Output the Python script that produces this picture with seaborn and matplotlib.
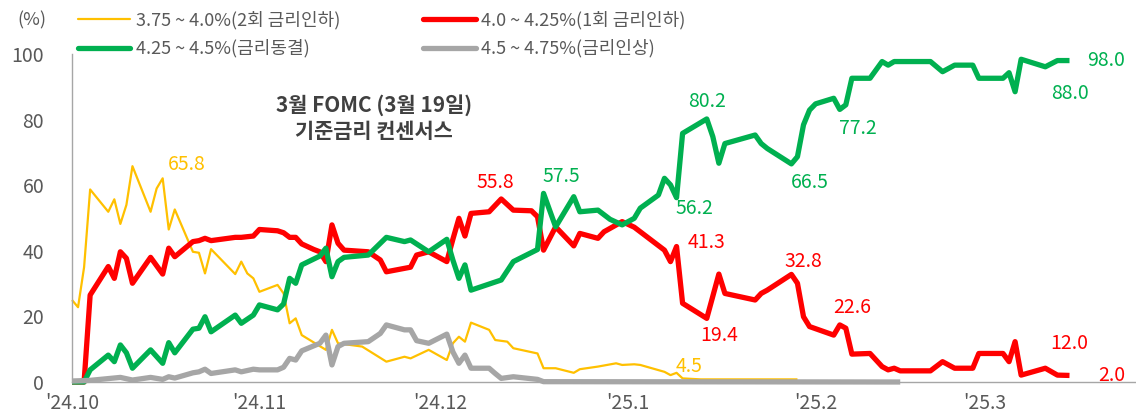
import pandas as pd
import matplotlib
matplotlib.use("Agg")
import matplotlib.pyplot as plt
from matplotlib.lines import Line2D
import seaborn as sns

# 금리 구간별 확률 (%), CME FedWatch 기준 3월 FOMC
yellow_dates = ["2024-10-01", "2024-10-02", "2024-10-03", "2024-10-04", "2024-10-07", "2024-10-08",
                "2024-10-09", "2024-10-10", "2024-10-11", "2024-10-14", "2024-10-15", "2024-10-16",
                "2024-10-17", "2024-10-18", "2024-10-21", "2024-10-22", "2024-10-23", "2024-10-24",
                "2024-10-28", "2024-10-29", "2024-10-30", "2024-10-31", "2024-11-01", "2024-11-04",
                "2024-11-05", "2024-11-06", "2024-11-07", "2024-11-08", "2024-11-12", "2024-11-13",
                "2024-11-14", "2024-11-18", "2024-11-22", "2024-11-25", "2024-11-26", "2024-11-29",
                "2024-12-02", "2024-12-03", "2024-12-04", "2024-12-05", "2024-12-06", "2024-12-09",
                "2024-12-10", "2024-12-12", "2024-12-13", "2024-12-17", "2024-12-18", "2024-12-20",
                "2024-12-23", "2024-12-24", "2024-12-27", "2024-12-30", "2024-12-31", "2025-01-02",
                "2025-01-03", "2025-01-07", "2025-01-08", "2025-01-09", "2025-01-10", "2025-01-13",
                "2025-01-29"]
yellow_vals = [25, 22.8, 35, 58.7, 51.9, 55.7, 48.2, 54, 65.8, 51.9, 59, 62.1,
               46.5, 52.6, 39.7, 39.4, 33.1, 40.5, 32.9, 36.7, 33.1, 31.6, 27.5, 29.6,
               27, 17.9, 19.4, 14.3, 9.8, 15.9, 11.8, 10.8, 6.2, 7.7, 7.2, 9.8,
               6.7, 11.8, 13.8, 12.3, 18.1, 15.9, 12.8, 12.3, 10.3, 8.7, 4.2, 4.2,
               2.8, 3.9, 4.7, 5.7, 5.2, 5.4, 5.2, 3.1, 2.1, 2.8, 1.1, 0.8, 0.8]

red_dates = ["2024-10-01", "2024-10-03", "2024-10-04", "2024-10-07", "2024-10-08", "2024-10-09",
             "2024-10-10", "2024-10-11", "2024-10-14", "2024-10-16", "2024-10-17", "2024-10-18",
             "2024-10-21", "2024-10-22", "2024-10-23", "2024-10-24", "2024-10-28", "2024-10-29",
             "2024-10-31", "2024-11-01", "2024-11-04", "2024-11-05", "2024-11-06", "2024-11-07",
             "2024-11-08", "2024-11-10", "2024-11-11", "2024-11-12", "2024-11-13", "2024-11-14",
             "2024-11-15", "2024-11-19", "2024-11-21", "2024-11-22", "2024-11-26", "2024-11-27",
             "2024-11-29", "2024-12-02", "2024-12-03", "2024-12-04", "2024-12-05", "2024-12-06",
             "2024-12-09", "2024-12-11", "2024-12-13", "2024-12-16", "2024-12-17", "2024-12-18",
             "2024-12-20", "2024-12-23", "2024-12-24", "2024-12-27", "2024-12-28", "2024-12-31",
             "2025-01-02", "2025-01-03", "2025-01-07", "2025-01-08", "2025-01-09", "2025-01-10",
             "2025-01-14", "2025-01-16", "2025-01-17", "2025-01-22", "2025-01-23", "2025-01-24",
             "2025-01-28", "2025-01-29", "2025-01-30", "2025-01-31", "2025-02-04", "2025-02-05",
             "2025-02-06", "2025-02-07", "2025-02-10", "2025-02-12", "2025-02-13", "2025-02-14",
             "2025-02-15", "2025-02-20", "2025-02-22", "2025-02-24", "2025-02-27", "2025-02-28",
             "2025-03-04", "2025-03-05", "2025-03-06", "2025-03-07", "2025-03-11", "2025-03-13",
             "2025-03-15"]
red_vals = [0, 0, 26.5, 35.2, 31.6, 39.7, 37.7, 30.1, 38, 32.9, 40.8, 38.2,
            42.8, 43.1, 43.8, 43.1, 44.1, 44.1, 44.5, 46.5, 46.1, 45.5, 44.1, 44.1,
            42.1, 40.4, 39.7, 36.7, 47.9, 42.3, 40.2, 39.7, 37.2, 33.6, 35, 38.7,
            39.7, 36.7, 43.5, 49.9, 44.5, 51.4, 51.9, 55.8, 52.4, 52.2, 50.4, 40.2,
            47.3, 41.5, 45.3, 43.8, 45.8, 48.9, 47.2, 45.8, 40.2, 36.7, 41.3, 24,
            19.4, 32.9, 27, 25, 27, 28, 32.8, 30.1, 19.9, 16.9, 14.3, 17.4,
            16.4, 8.5, 8.7, 4.7, 3.7, 4.2, 3.4, 3.4, 6.2, 4.2, 4.2, 8.7,
            8.7, 6.2, 12.3, 2.1, 4.2, 2.1, 2.0]

green_dates = ["2024-10-01", "2024-10-03", "2024-10-04", "2024-10-07", "2024-10-08", "2024-10-09",
               "2024-10-10", "2024-10-11", "2024-10-14", "2024-10-16", "2024-10-17", "2024-10-18",
               "2024-10-21", "2024-10-22", "2024-10-23", "2024-10-24", "2024-10-28", "2024-10-29",
               "2024-10-31", "2024-11-01", "2024-11-04", "2024-11-05", "2024-11-06", "2024-11-07",
               "2024-11-08", "2024-11-11", "2024-11-12", "2024-11-13", "2024-11-14", "2024-11-15",
               "2024-11-19", "2024-11-22", "2024-11-25", "2024-11-26", "2024-11-29", "2024-12-02",
               "2024-12-03", "2024-12-04", "2024-12-05", "2024-12-06", "2024-12-11", "2024-12-13",
               "2024-12-17", "2024-12-18", "2024-12-20", "2024-12-23", "2024-12-24", "2024-12-27",
               "2024-12-29", "2024-12-31", "2025-01-02", "2025-01-03", "2025-01-06", "2025-01-07",
               "2025-01-08", "2025-01-09", "2025-01-10", "2025-01-14", "2025-01-15", "2025-01-16",
               "2025-01-17", "2025-01-22", "2025-01-23", "2025-01-24", "2025-01-28", "2025-01-29",
               "2025-01-30", "2025-01-31", "2025-02-01", "2025-02-04", "2025-02-05", "2025-02-06",
               "2025-02-07", "2025-02-10", "2025-02-12", "2025-02-13", "2025-02-14", "2025-02-20",
               "2025-02-22", "2025-02-24", "2025-02-27", "2025-02-28", "2025-03-04", "2025-03-05",
               "2025-03-06", "2025-03-07", "2025-03-11", "2025-03-13", "2025-03-15"]
green_vals = [0, 0, 3.7, 8.2, 6.2, 11.3, 8.9, 4.2, 9.8, 5.7, 12, 8.9,
              16.1, 16.4, 19.9, 15.3, 20.4, 17.9, 20.4, 23.5, 22, 23.8, 31.6, 30.1,
              35.7, 38.4, 40.8, 32.1, 36.7, 38, 38.7, 44.1, 42.8, 43.3, 39.7, 43.5,
              37.2, 31.6, 35.7, 28, 31.1, 36.7, 40.4, 57.5, 47.3, 56.5, 51.9, 52.4,
              49.6, 47.9, 49.9, 53, 57, 62.1, 60.1, 56.2, 75.8, 80.2, 74.8, 66.7,
              72.7, 75.3, 72.7, 71.2, 66.5, 68.7, 78.4, 82.9, 84.8, 86.5, 83.1, 84.5,
              92.6, 92.6, 97.7, 96.6, 97.7, 97.7, 94.6, 96.6, 96.6, 92.6, 92.6, 94.3,
              88.5, 98.4, 96.1, 98, 98]

gray_dates = ["2024-10-01", "2024-10-04", "2024-10-09", "2024-10-11", "2024-10-14", "2024-10-16",
              "2024-10-17", "2024-10-18", "2024-10-21", "2024-10-22", "2024-10-23", "2024-10-24",
              "2024-10-28", "2024-10-29", "2024-10-31", "2024-11-01", "2024-11-04", "2024-11-05",
              "2024-11-06", "2024-11-07", "2024-11-08", "2024-11-11", "2024-11-12", "2024-11-13",
              "2024-11-14", "2024-11-15", "2024-11-19", "2024-11-21", "2024-11-22", "2024-11-25",
              "2024-11-26", "2024-11-27", "2024-11-29", "2024-12-02", "2024-12-03", "2024-12-04",
              "2024-12-05", "2024-12-06", "2024-12-09", "2024-12-10", "2024-12-11", "2024-12-13",
              "2024-12-17", "2024-12-18", "2025-02-15"]
gray_vals = [0.3, 0.5, 1.4, 0.6, 1.4, 0.8, 1.6, 1.2, 2.8, 3.1, 3.9, 2.6,
             3.7, 3.1, 3.9, 3.7, 3.7, 4.5, 7.2, 6.7, 9.5, 11.8, 14.3, 5.2,
             10.8, 11.8, 12.3, 14.8, 17.4, 15.9, 15.9, 12.6, 11.8, 14.6, 9.2, 5.7,
             8.2, 4.2, 4.2, 2.6, 1.1, 1.6, 0.8, 0.1, 0]

series_names = ["3.75 ~ 4.0%(2회 금리인하)", "4.0 ~ 4.25%(1회 금리인하)",
                "4.25 ~ 4.5%(금리동결)", "4.5 ~ 4.75%(금리인상)"]
colors = ["#FFC000", "#FF0000", "#00B050", "#A6A6A6"]
widths = [1.6, 3.8, 3.8, 3.8]

# 주요 값 라벨: (텍스트, 날짜, 높이, 색 인덱스)
label_texts = ["65.8", "55.8", "57.5", "80.2", "56.2", "41.3", "19.4", "32.8",
               "66.5", "77.2", "22.6", "4.5", "98.0", "88.0", "12.0", "2.0"]
label_dates = ["2024-10-20", "2024-12-10", "2024-12-21", "2025-01-14", "2025-01-12", "2025-01-14",
               "2025-01-16", "2025-01-30", "2025-01-31", "2025-02-08", "2025-02-07", "2025-01-11",
               "2025-03-21", "2025-03-15", "2025-03-15", "2025-03-22"]
label_y = [66.2, 60.7, 62.5, 85.4, 53, 42.4, 14.3, 36.6,
           60.7, 77.4, 22.6, 4.6, 97.9, 88.1, 11.6, 2.1]
label_series = [0, 1, 2, 2, 2, 1, 1, 1, 2, 2, 1, 0, 2, 2, 1, 1]

sns.set_style("white")
plt.rcParams["font.family"] = ["Noto Sans CJK KR", "DejaVu Sans"]

W, H = 1136, 416
fig = plt.figure(figsize=(W / 100, H / 100), dpi=100)
ax = fig.add_axes([72 / W, 34 / H, (W - 72) / W, 328 / H])

all_data = [(yellow_dates, yellow_vals), (red_dates, red_vals),
            (green_dates, green_vals), (gray_dates, gray_vals)]
for (d, v), name, c, lw in zip(all_data, series_names, colors, widths):
    df = pd.DataFrame({"date": pd.to_datetime(d), "value": v})
    sns.lineplot(data=df, x="date", y="value", color=c, lw=lw, ax=ax,
                 clip_on=False, solid_joinstyle="round", solid_capstyle="butt")

ax.set_xlim(pd.Timestamp("2024-10-01"), pd.Timestamp("2025-03-26"))
ax.set_ylim(0, 100)
ax.set_xlabel("")
ax.set_ylabel("")

months = pd.date_range("2024-10-01", "2025-03-01", freq="MS")
ax.set_xticks(months)
ax.set_xticklabels([f"'{m:%y}.{m.month}" for m in months])
ax.set_yticks(range(0, 101, 20))

txt_color = "#595959"
ax.tick_params(axis="x", direction="in", length=5, color="#A6A6A6", labelsize=14,
               labelcolor=txt_color, pad=8)
ax.tick_params(axis="y", direction="out", length=3, color="#A6A6A6", labelsize=14,
               labelcolor=txt_color, pad=17)
for s in ["top", "right"]:
    ax.spines[s].set_visible(False)
for s in ["left", "bottom"]:
    ax.spines[s].set_color("#A6A6A6")
    ax.spines[s].set_linewidth(1)

for t, d, y, si in zip(label_texts, label_dates, label_y, label_series):
    ax.text(pd.Timestamp(d), y, t, color=colors[si], fontsize=14,
            ha="center", va="center", clip_on=False)

ax.text(0.284, 0.805, "3월 FOMC (3월 19일)\n기준금리 컨센서스", transform=ax.transAxes,
        ha="center", va="center", fontsize=15, fontweight="bold", color="#404040",
        linespacing=1.3)

fig.text(32 / W, 1 - 20 / H, "(%)", ha="center", va="center", fontsize=13, color=txt_color)

handles = [Line2D([0], [0], color=c, lw=lw) for c, lw in zip(colors, widths)]
order = [0, 2, 1, 3]
fig.legend([handles[i] for i in order], [series_names[i] for i in order],
           ncol=2, loc="upper left", bbox_to_anchor=(78 / W, 1 - 11 / H),
           frameon=False, fontsize=13, labelcolor=txt_color, borderpad=0,
           borderaxespad=0, handlelength=2.9, handletextpad=0.3,
           columnspacing=4.6, labelspacing=0.55)

fig.savefig("out.png", dpi=100)
